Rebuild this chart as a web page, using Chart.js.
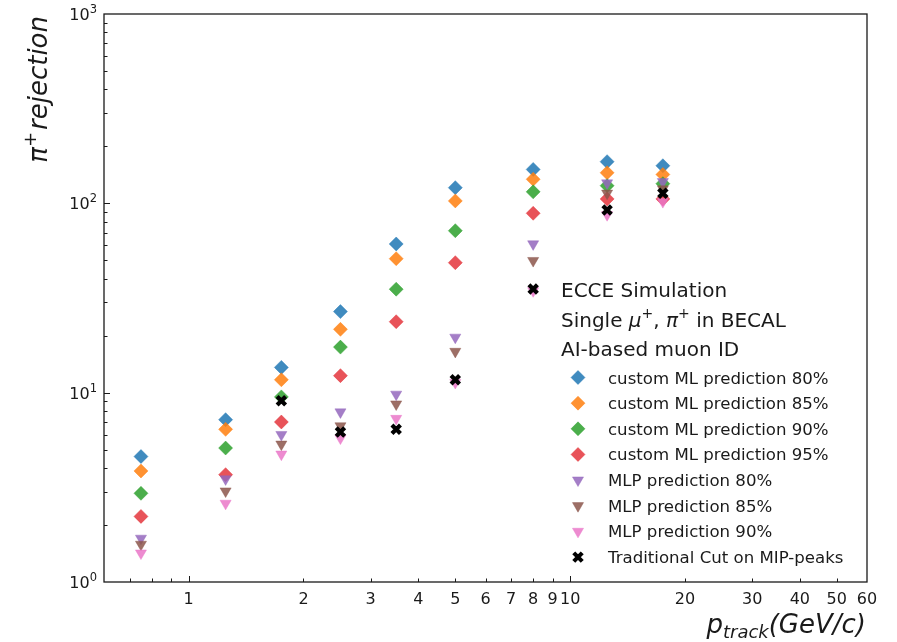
<!DOCTYPE html>
<html>
<head>
<meta charset="utf-8">
<title>pi+ rejection vs track momentum</title>
<script src="https://cdn.jsdelivr.net/npm/chart.js@4.4.1/dist/chart.umd.min.js"></script>
<style>
  html, body { margin: 0; padding: 0; background: #fff; }
  #wrap { width: 897px; height: 642px; }
</style>
</head>
<body>
<div id="wrap"><canvas id="rejection" width="897" height="642"></canvas></div>
<script>
// track momentum bin centres (GeV/c)
const momentum = [0.75, 1.25, 1.75, 2.5, 3.5, 5, 8, 12.5, 17.5];

// pi+ rejection per momentum bin
const customMl80 = [4.6, 7.2, 13.6, 26.8, 61, 121, 151, 166, 158];
const customMl85 = [3.86, 6.4, 11.7, 21.6, 51, 103, 134, 145, 142];
const customMl90 = [2.94, 5.1, 9.5, 17.4, 35.2, 71.7, 115, 124, 127];
const customMl95 = [2.22, 3.69, 7.0, 12.3, 23.7, 48.6, 88.6, 105.5, 105.5];
const mlp80 = [1.7, 3.5, 6.0, 7.9, 9.8, 19.6, 61, 128, 130];
const mlp85 = [1.58, 3.02, 5.34, 6.67, 8.7, 16.5, 49.8, 113, 119];
const mlp90 = [1.42, 2.6, 4.73, 5.75, 7.3, 11.3, 34.5, 87, 102];
const mipCut = [null, null, 9.07, 6.2, 6.41, 11.7, 35.3, 92.3, 113];

const seriesLabels = [
  'custom ML prediction 80%',
  'custom ML prediction 85%',
  'custom ML prediction 90%',
  'custom ML prediction 95%',
  'MLP prediction 80%',
  'MLP prediction 85%',
  'MLP prediction 90%',
  'Traditional Cut on MIP-peaks'
];
const seriesValues = [customMl80, customMl85, customMl90, customMl95, mlp80, mlp85, mlp90, mipCut];

// axis ticks
const xTickValues = [0.6, 0.7, 0.8, 0.9, 1, 2, 3, 4, 5, 6, 7, 8, 9, 10, 20, 30, 40, 50, 60];
const xTickLabels = [1, 2, 3, 4, 5, 6, 7, 8, 9, 10, 20, 30, 40, 50, 60];
const xMajorTicks = [1, 10];
const yTickValues = [1, 10, 100, 1000];
const yTickExponents = ['0', '1', '2', '3'];

const FONT = 'DejaVu Sans';

const markerStyles = [
  { color: 'rgba(31,119,180,0.85)', shape: 'rectRot', radius: 7, rotation: 0 },
  { color: 'rgba(255,127,14,0.85)', shape: 'rectRot', radius: 7, rotation: 0 },
  { color: 'rgba(44,160,44,0.85)', shape: 'rectRot', radius: 7, rotation: 0 },
  { color: 'rgba(226,40,48,0.8)', shape: 'rectRot', radius: 7, rotation: 0 },
  { color: 'rgba(148,103,189,0.85)', shape: 'triangle', radius: 6.4, rotation: 180 },
  { color: 'rgba(140,86,75,0.85)', shape: 'triangle', radius: 6.4, rotation: 180 },
  { color: 'rgba(234,119,200,0.85)', shape: 'triangle', radius: 6.4, rotation: 180 },
  { color: '#000', shape: 'crossRot', radius: 6, rotation: 0, width: 4.2 }
];

function toPoints(values) {
  return momentum
    .map((p, i) => ({ x: p, y: values[i] }))
    .filter(pt => pt.y !== null);
}

const datasets = seriesValues.map((values, i) => {
  const s = markerStyles[i];
  return {
    label: seriesLabels[i],
    data: toPoints(values),
    pointStyle: s.shape,
    pointRadius: s.radius,
    pointHoverRadius: s.radius,
    pointRotation: s.rotation,
    pointBackgroundColor: s.color,
    pointBorderColor: s.color,
    pointBorderWidth: s.width || 0.5,
    // later series sit on top
    order: seriesValues.length - i
  };
});

// draw text made of several runs (italic, sub/superscript)
function drawRuns(ctx, runs, x, y, align) {
  let total = 0;
  runs.forEach(r => { ctx.font = r.font; r.w = ctx.measureText(r.text).width; total += r.w + (r.gap || 0); });
  let cx = align === 'right' ? x - total : x;
  ctx.textAlign = 'left';
  ctx.textBaseline = 'alphabetic';
  runs.forEach(r => {
    ctx.font = r.font;
    ctx.fillText(r.text, cx, y + (r.dy || 0));
    cx += r.w + (r.gap || 0);
  });
}

const frameAndTicks = {
  id: 'frameAndTicks',
  afterDraw(chart) {
    const { ctx, chartArea: a, scales: { x, y } } = chart;
    ctx.save();
    ctx.strokeStyle = '#1a1a1a';
    ctx.lineWidth = 1;
    ctx.beginPath();
    xTickValues.forEach(v => {
      if (v <= x.min || v >= x.max) return;
      const px = Math.round(x.getPixelForValue(v)) + 0.5;
      const len = xMajorTicks.includes(v) ? 6 : 3.5;
      ctx.moveTo(px, a.bottom);
      ctx.lineTo(px, a.bottom - len);
    });
    for (let dec = 1; dec < 1000; dec *= 10) {
      for (let m = 1; m < 10; m++) {
        const v = dec * m;
        if (v <= y.min) continue;
        const py = Math.round(y.getPixelForValue(v)) + 0.5;
        const len = m === 1 ? 6 : 3.5;
        ctx.moveTo(a.left, py);
        ctx.lineTo(a.left + len, py);
      }
    }
    ctx.stroke();
    ctx.lineWidth = 1.3;
    ctx.strokeRect(a.left, a.top, a.right - a.left, a.bottom - a.top);

    ctx.fillStyle = '#1a1a1a';
    // decade labels on the y axis, written as 10 with a raised exponent
    yTickValues.forEach((v, i) => {
      const py = y.getPixelForValue(v);
      drawRuns(ctx, [
        { text: '10', font: '16px ' + FONT },
        { text: yTickExponents[i], font: '11.5px ' + FONT, dy: -7 }
      ], a.left - 7, py + 6, 'right');
    });

    // axis titles
    drawRuns(ctx, [
      { text: 'p', font: 'italic 26px ' + FONT },
      { text: 'track', font: 'italic 18px ' + FONT, dy: 5 },
      { text: '(GeV/c)', font: 'italic 26px ' + FONT }
    ], 866, 633, 'right');

    ctx.save();
    ctx.translate(47, 16);
    ctx.rotate(-Math.PI / 2);
    drawRuns(ctx, [
      { text: '\u03c0', font: 'italic 26px ' + FONT },
      { text: '+', font: '18px ' + FONT, dy: -11, gap: 2 },
      { text: 'rejection', font: 'italic 26px ' + FONT }
    ], 0, 0, 'right');
    ctx.restore();
    ctx.restore();
  }
};

const legendBlock = {
  id: 'legendBlock',
  afterDraw(chart) {
    const ctx = chart.ctx;
    ctx.save();
    ctx.fillStyle = '#1a1a1a';
    const big = '20px ' + FONT;
    drawRuns(ctx, [{ text: 'ECCE Simulation', font: big }], 561, 297, 'left');
    drawRuns(ctx, [
      { text: 'Single ', font: big },
      { text: '\u03bc', font: 'italic ' + big },
      { text: '+', font: '14px ' + FONT, dy: -9 },
      { text: ', ', font: big },
      { text: '\u03c0', font: 'italic ' + big },
      { text: '+', font: '14px ' + FONT, dy: -9 },
      { text: ' in BECAL', font: big }
    ], 561, 327, 'left');
    drawRuns(ctx, [{ text: 'AI-based muon ID', font: big }], 561, 356, 'left');

    chart.data.datasets.forEach((ds, i) => {
      const base = 383.5 + i * 25.66;
      const s = markerStyles[i];
      ctx.fillStyle = s.color;
      ctx.strokeStyle = s.color;
      ctx.lineWidth = s.width || 0.5;
      Chart.helpers.drawPoint(ctx, {
        pointStyle: s.shape, radius: s.radius, rotation: s.rotation, borderWidth: s.width || 0.5
      }, 578, base - 6);
      ctx.fillStyle = '#1a1a1a';
      ctx.font = '16.6px ' + FONT;
      ctx.textAlign = 'left';
      ctx.textBaseline = 'alphabetic';
      ctx.fillText(ds.label, 608, base);
    });
    ctx.restore();
  }
};

const whiteBackground = {
  id: 'whiteBackground',
  beforeDraw(chart) {
    const ctx = chart.ctx;
    ctx.save();
    ctx.fillStyle = '#fff';
    ctx.fillRect(0, 0, chart.width, chart.height);
    ctx.restore();
  }
};

new Chart(document.getElementById('rejection'), {
  type: 'scatter',
  data: { datasets },
  options: {
    responsive: false,
    animation: false,
    devicePixelRatio: 1,
    layout: { padding: { left: 0, top: 14, right: 30, bottom: 0 } },
    plugins: {
      legend: { display: false },
      tooltip: { enabled: false }
    },
    scales: {
      x: {
        type: 'logarithmic',
        min: 0.6,
        max: 60,
        grid: { display: false, drawTicks: false },
        border: { display: false },
        afterFit(scale) { scale.height = 60; },
        afterBuildTicks(scale) { scale.ticks = xTickValues.map(v => ({ value: v })); },
        ticks: {
          autoSkip: false,
          maxRotation: 0,
          minRotation: 0,
          padding: 8,
          color: '#1a1a1a',
          font: { family: FONT, size: 16 },
          callback: value => xTickLabels.includes(value) ? String(value) : ''
        }
      },
      y: {
        type: 'logarithmic',
        min: 1,
        max: 1000,
        grid: { display: false, drawTicks: false },
        border: { display: false },
        afterFit(scale) { scale.width = 104; },
        afterBuildTicks(scale) { scale.ticks = yTickValues.map(v => ({ value: v })); },
        ticks: { display: false }
      }
    }
  },
  plugins: [whiteBackground, frameAndTicks, legendBlock]
});
</script>
</body>
</html>
